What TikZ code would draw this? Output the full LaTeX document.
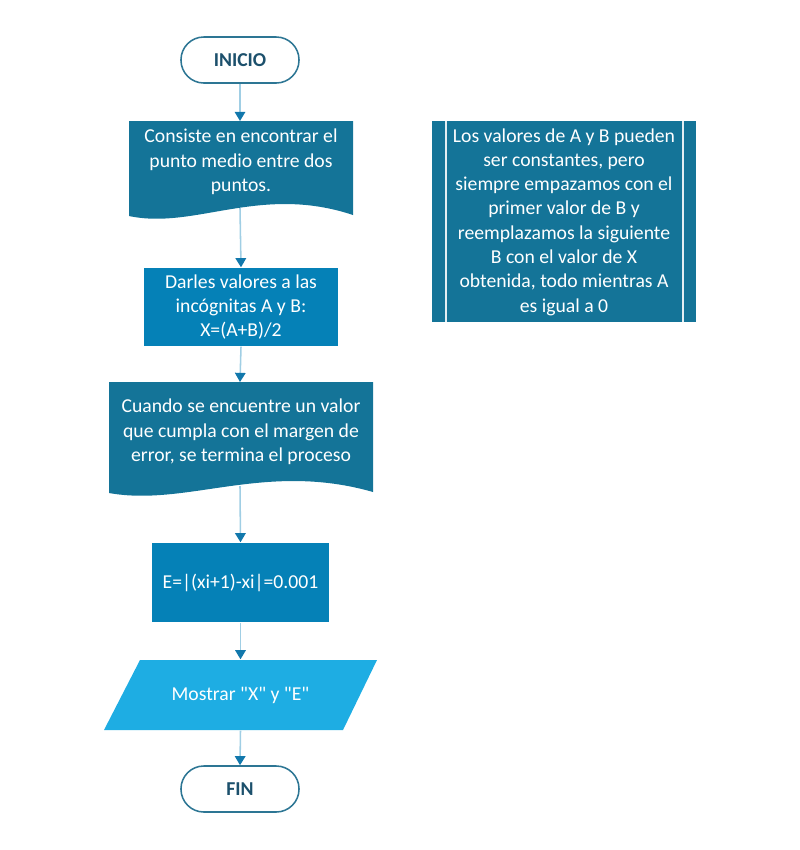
\documentclass[tikz,border=0pt]{standalone}
\usepackage{fontspec}
\setmainfont{Carlito}[Ligatures=TeXOff]
\usetikzlibrary{arrows.meta}
\definecolor{docazul}{RGB}{20,116,152}
\definecolor{procazul}{RGB}{5,129,183}
\definecolor{esazul}{RGB}{30,173,227}
\definecolor{linea}{RGB}{160,206,228}
\definecolor{flecha}{RGB}{18,120,172}
\definecolor{bordeterm}{RGB}{45,118,148}
\definecolor{textoterm}{RGB}{28,80,108}

\begin{document}
\begin{tikzpicture}[x=0.025cm,y=-0.025cm,line width=1pt,
    >={Triangle[length=6.5pt,width=7.5pt,color=flecha]},
    font=\fontsize{14}{17.3}\selectfont,
    terminal/.style={draw=bordeterm,line width=1.1pt,fill=white,rounded corners=0.57cm,
      minimum width=2.95cm,minimum height=1.15cm,font=\fontsize{14}{17.3}\selectfont\bfseries,text=textoterm},
    proceso/.style={fill=procazul,text=white,align=center,inner sep=0pt},
    texto/.style={text=white,align=center,inner sep=0pt},
    conector/.style={draw=linea,line width=1.1pt,->}]
  \useasboundingbox (0,0) rectangle (800,850);
  % inicio
  \node[terminal] (inicio) at (240,60) {INICIO};
  % documento: punto medio
  \fill[docazul] (129,121) -- (353,121) -- (353,215) .. controls (260,184) and (195,230) .. (129,216) -- cycle;
  \node[texto] (consiste) at (241,162) {Consiste en encontrar el\\punto medio entre dos\\puntos.};
  \coordinate (consiste-arriba) at (240,121);
  \coordinate (consiste-abajo) at (240,208);
  % proceso: valores
  \node[proceso,minimum width=4.85cm,minimum height=1.95cm] (valores) at (241,307) {Darles valores a las\\incógnitas A y B:\\X=(A+B)/2};
  % documento: margen de error
  \fill[docazul] (109,382) -- (373,382) -- (373,492) .. controls (265,461) and (187,507) .. (109,493) -- cycle;
  \node[texto] (cuando) at (241,432) {Cuando se encuentre un valor\\que cumpla con el margen de\\error, se termina el proceso};
  \coordinate (cuando-arriba) at (240,382);
  \coordinate (cuando-abajo) at (240,486);
  % proceso: error
  \node[proceso,minimum width=4.425cm,minimum height=1.975cm] (error) at (240.5,582.5) {E=|(xi+1)-xi|=0.001};
  % entrada/salida
  \fill[esazul] (140,660) -- (377,660) -- (343,730) -- (104,730) -- cycle;
  \node[texto,minimum height=1.75cm] (mostrar) at (240.5,695) {Mostrar "X" y "E"};
  % fin
  \node[terminal] (fin) at (240,789) {FIN};
  % nota: proceso predefinido
  \fill[docazul] (432,121) rectangle (696,322);
  \draw[white!88!docazul,line width=1.2pt] (446,121) -- (446,322) (683,121) -- (683,322);
  \node[texto] (nota) at (564,222) {Los valores de A y B pueden\\ser constantes, pero\\siempre empazamos con el\\primer valor de B y\\reemplazamos la siguiente\\B con el valor de X\\obtenida, todo mientras A\\es igual a 0};
  % conectores
  \draw[conector] (inicio.south) -- (consiste-arriba);
  \draw[conector] (consiste-abajo) -- (valores.north);
  \draw[conector] (valores.south) -- (cuando-arriba);
  \draw[conector] (cuando-abajo) -- (error.north);
  \draw[conector] (error.south) -- (mostrar.north);
  \draw[conector] (mostrar.south) -- (fin.north);
\end{tikzpicture}
\end{document}
